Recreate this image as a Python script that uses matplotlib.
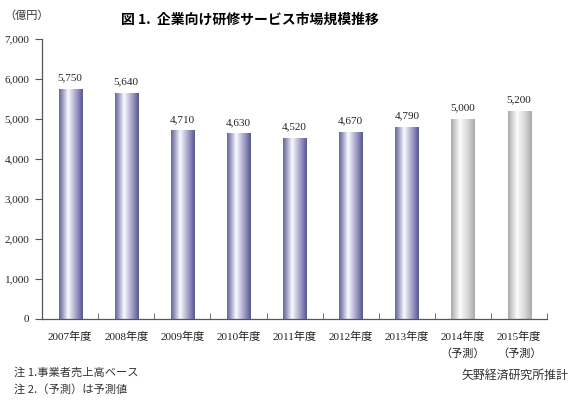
import matplotlib.pyplot as plt
import numpy as np
from matplotlib.colors import LinearSegmentedColormap

years = ['2007年度', '2008年度', '2009年度', '2010年度', '2011年度',
         '2012年度', '2013年度', '2014年度\n（予測）', '2015年度\n（予測）']
values = [5750, 5640, 4710, 4630, 4520, 4670, 4790, 5000, 5200]
forecast = [False] * 7 + [True] * 2

serif = ['Liberation Serif', 'Noto Sans CJK JP']
cjk = ['Noto Sans CJK JP', 'DejaVu Sans']

# cylinder-like shading across each bar
purple = LinearSegmentedColormap.from_list('purple', [
    (0.0, (0.40, 0.40, 0.60)), (0.15, (0.60, 0.60, 0.76)),
    (0.38, (0.98, 0.98, 1.0)), (0.75, (0.60, 0.60, 0.76)),
    (1.0, (0.34, 0.34, 0.55))])
grey = LinearSegmentedColormap.from_list('grey', [
    (0.0, (0.66, 0.66, 0.66)), (0.15, (0.80, 0.80, 0.80)),
    (0.38, (0.99, 0.99, 0.99)), (0.75, (0.82, 0.82, 0.82)),
    (1.0, (0.66, 0.66, 0.66))])
grad = np.linspace(0, 1, 256).reshape(1, -1)

fig = plt.figure(figsize=(5.82, 4.0), dpi=100)
ax = fig.add_axes([0.0722, 0.2025, 0.868, 0.70])

x = np.arange(len(values))
w = 0.41
for xi, v, f in zip(x, values, forecast):
    ax.imshow(grad, extent=[xi - w / 2, xi + w / 2, 0, v], aspect='auto',
              cmap=grey if f else purple, interpolation='bilinear', zorder=2)
    ax.text(xi, v + 170, f'{v:,}', ha='center', va='bottom',
            fontsize=8, family=serif, color='#222222')

ax.set_xlim(-0.5, len(values) - 0.5)
ax.set_ylim(0, 7000)
ax.set_yticks(range(0, 7001, 1000))
ax.set_yticklabels([f'{t:,}' for t in range(0, 7001, 1000)],
                   fontsize=8, family=serif, color='#222222')
ax.set_xticks(x)
ax.set_xticklabels(years, fontsize=8, family=serif, color='#222222',
                   linespacing=1.75)
ax.set_xticks(np.arange(0.5, len(values) - 0.5 + 0.01, 1), minor=True)
ax.tick_params(axis='x', which='major', length=0, pad=9)
ax.tick_params(axis='x', which='minor', length=4, direction='in',
               color='#555555')
ax.tick_params(axis='y', length=5, direction='out', color='#555555', pad=4)
for s in ['top', 'right']:
    ax.spines[s].set_visible(False)
for s in ['left', 'bottom']:
    ax.spines[s].set_color('#555555')
    ax.spines[s].set_linewidth(0.9)

fig.text(0.43, 0.95, '図 1.  企業向け研修サービス市場規模推移', ha='center',
         va='center', fontsize=10, fontweight='bold', family=cjk)
fig.text(0.008, 0.96, '（億円）', ha='left', va='center', fontsize=8,
         family=cjk, color='#333333')
fig.text(0.024, 0.069, '注 1.事業者売上高ベース', ha='left', va='center',
         fontsize=8.1, family=cjk, color='#333333')
fig.text(0.024, 0.027, '注 2.（予測）は予測値', ha='left', va='center',
         fontsize=8.1, family=cjk, color='#333333')
fig.text(0.977, 0.062, '矢野経済研究所推計', ha='right', va='center',
         fontsize=8.6, family=cjk, color='#333333')

fig.savefig('out.png', dpi=100)
